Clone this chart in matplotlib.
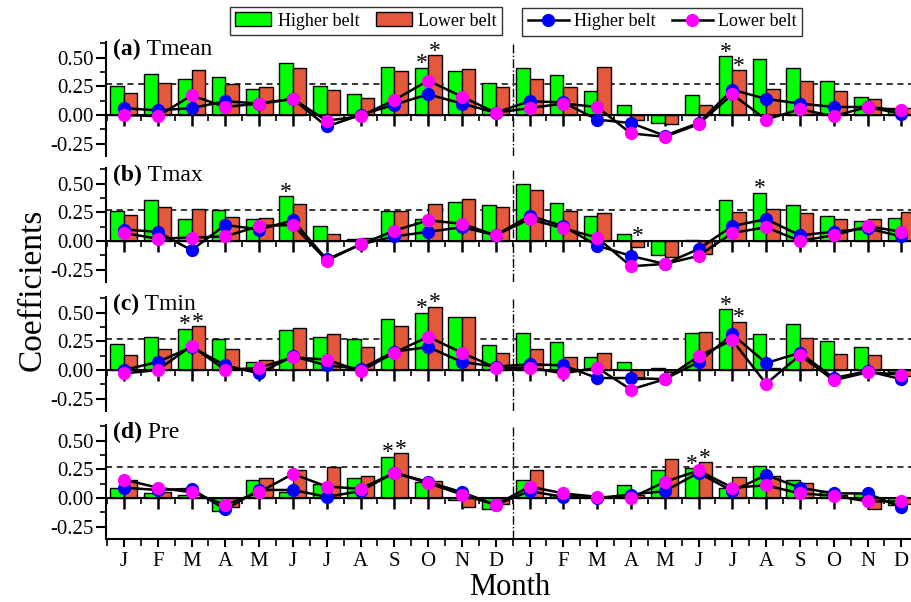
import matplotlib
matplotlib.use("Agg")
import matplotlib.pyplot as plt
import numpy as np
from matplotlib.patches import Patch
from matplotlib.lines import Line2D

plt.rcParams['font.family'] = ['Liberation Serif', 'DejaVu Serif']

months = ['J', 'F', 'M', 'A', 'M', 'J', 'J', 'A', 'S', 'O', 'N', 'D'] * 2
panel_letters = ['(a)', '(b)', '(c)', '(d)']
panel_names = ['Tmean', 'Tmax', 'Tmin', 'Pre']
threshold = 0.27

tmean_bar_high = [0.25, 0.36, 0.31, 0.33, 0.23, 0.45, 0.25, 0.18, 0.42, 0.41, 0.38, 0.28,
                  0.41, 0.35, 0.21, 0.09, -0.07, 0.17, 0.51, 0.49, 0.41, 0.30, 0.16, 0.06]
tmean_bar_low = [0.19, 0.28, 0.39, 0.27, 0.24, 0.41, 0.22, 0.15, 0.38, 0.52, 0.40, 0.24,
                 0.31, 0.24, 0.42, -0.04, -0.08, 0.09, 0.39, 0.23, 0.30, 0.21, 0.14, 0.06]
tmean_line_high = [0.06, 0.04, 0.06, 0.12, 0.10, 0.14, -0.10, 0.00, 0.09, 0.18, 0.10, 0.02,
                   0.12, 0.11, -0.04, -0.07, -0.18, -0.07, 0.22, 0.14, 0.10, 0.07, 0.07, 0.01]
tmean_line_low = [0.00, -0.01, 0.17, 0.07, 0.10, 0.14, -0.05, -0.01, 0.13, 0.30, 0.16, 0.02,
                  0.06, 0.10, 0.07, -0.16, -0.19, -0.08, 0.18, -0.04, 0.05, -0.01, 0.07, 0.04]

tmax_bar_high = [0.26, 0.36, 0.19, 0.27, 0.19, 0.39, 0.13, 0.02, 0.26, 0.19, 0.34, 0.31,
                 0.50, 0.33, 0.22, 0.06, -0.12, 0.01, 0.36, 0.42, 0.31, 0.22, 0.17, 0.20]
tmax_bar_low = [0.23, 0.30, 0.28, 0.21, 0.20, 0.32, 0.06, 0.03, 0.26, 0.32, 0.37, 0.30,
                0.44, 0.26, 0.24, -0.05, -0.14, -0.11, 0.25, 0.28, 0.24, 0.19, 0.19, 0.25]
tmax_line_high = [0.10, 0.08, -0.08, 0.14, 0.10, 0.18, -0.16, -0.03, 0.04, 0.08, 0.12, 0.05,
                  0.22, 0.13, -0.04, -0.13, -0.20, -0.07, 0.13, 0.19, 0.05, 0.08, 0.11, 0.04]
tmax_line_low = [0.07, 0.02, 0.03, 0.04, 0.13, 0.14, -0.17, -0.03, 0.09, 0.18, 0.15, 0.05,
                 0.19, 0.11, 0.03, -0.22, -0.20, -0.13, 0.07, 0.12, 0.00, 0.05, 0.13, 0.08]

tmin_bar_high = [0.23, 0.29, 0.36, 0.27, 0.07, 0.35, 0.29, 0.27, 0.44, 0.50, 0.46, 0.22,
                 0.32, 0.24, 0.11, 0.07, 0.02, 0.32, 0.53, 0.31, 0.40, 0.25, 0.20, -0.02]
tmin_bar_low = [0.13, 0.18, 0.38, 0.18, 0.09, 0.37, 0.31, 0.20, 0.38, 0.55, 0.46, 0.15,
                0.18, 0.11, 0.15, -0.08, -0.02, 0.33, 0.42, 0.02, 0.28, 0.14, 0.13, -0.05]
tmin_line_high = [0.00, 0.07, 0.20, 0.04, -0.03, 0.12, 0.04, 0.01, 0.16, 0.20, 0.07, 0.03,
                  0.05, 0.04, -0.07, -0.07, -0.08, 0.07, 0.31, 0.06, 0.15, -0.07, -0.01, -0.08]
tmin_line_low = [-0.03, 0.00, 0.21, 0.00, 0.02, 0.11, 0.09, -0.01, 0.15, 0.29, 0.15, 0.02,
                 0.02, -0.03, 0.02, -0.17, -0.08, 0.12, 0.26, -0.12, 0.13, -0.09, -0.02, -0.04]

pre_bar_high = [0.09, 0.04, 0.03, -0.11, 0.16, 0.05, 0.12, 0.17, 0.36, 0.14, -0.02, -0.10,
                0.16, 0.03, 0.01, 0.11, 0.24, 0.26, 0.09, 0.28, 0.16, 0.06, 0.04, -0.06]
pre_bar_low = [0.16, 0.05, 0.00, -0.08, 0.17, 0.24, 0.27, 0.19, 0.39, 0.15, -0.08, -0.05,
               0.24, 0.03, 0.00, 0.03, 0.34, 0.31, 0.18, 0.19, 0.13, 0.03, -0.10, -0.05]
pre_line_high = [0.09, 0.07, 0.08, -0.10, 0.07, 0.07, 0.01, 0.06, 0.22, 0.14, 0.05, -0.06,
                 0.06, 0.01, 0.00, 0.03, 0.06, 0.22, 0.06, 0.20, 0.09, 0.04, 0.04, -0.08]
pre_line_low = [0.16, 0.09, 0.05, -0.06, 0.05, 0.21, 0.10, 0.08, 0.22, 0.13, 0.03, -0.06,
                0.10, 0.04, 0.01, 0.00, 0.14, 0.24, 0.09, 0.11, 0.04, 0.02, -0.03, -0.03]

# significance markers: panel index, month index (0-23), series ('H' higher, 'L' lower)
star_panel = [0, 0, 0, 0, 1, 1, 1, 2, 2, 2, 2, 2, 2, 3, 3, 3, 3]
star_month = [9, 9, 18, 18, 5, 15, 19, 2, 2, 9, 9, 18, 18, 8, 8, 17, 17]
star_series = ['H', 'L', 'H', 'L', 'H', 'L', 'H', 'H', 'L', 'H', 'L', 'H', 'L', 'H', 'L', 'H', 'L']

bars_high = [tmean_bar_high, tmax_bar_high, tmin_bar_high, pre_bar_high]
bars_low = [tmean_bar_low, tmax_bar_low, tmin_bar_low, pre_bar_low]
lines_high = [tmean_line_high, tmax_line_high, tmin_line_high, pre_line_high]
lines_low = [tmean_line_low, tmax_line_low, tmin_line_low, pre_line_low]

GREEN = '#00FF00'
RED = '#E4583B'
BLUE = '#0000FF'
MAGENTA = '#FF00FF'

W, H = 912, 602
fig = plt.figure(figsize=(W / 100, H / 100), dpi=100)

x = np.arange(1, 25)
zeros_px = [115, 241, 370, 498]
scale = 114.8  # px per unit
ylo, yhi = -0.36, 0.64
xlo, xhi = 0.47, 24.6
left_px = 106
px_per_month = 33.8

axes = []
for k in range(4):
    bottom_px = zeros_px[k] + (-ylo) * scale
    height_px = (yhi - ylo) * scale
    width_px = (xhi - xlo) * px_per_month
    ax = fig.add_axes([left_px / W, 1 - bottom_px / H, width_px / W, height_px / H])
    ax.set_xlim(xlo, xhi)
    ax.set_ylim(ylo, yhi)
    ax.patch.set_alpha(0)
    for s in ['top', 'right']:
        ax.spines[s].set_visible(False)
    ax.spines['bottom'].set_position(('data', 0))
    ax.spines['bottom'].set_linewidth(1.5)
    ax.spines['left'].set_linewidth(1.5)

    ax.axhline(threshold, color='black', ls=(0, (4, 3)), lw=1.1, zorder=0.5)
    ax.axvline(12.5, color='black', ls='-.', lw=1.0, zorder=0.5)

    ax.bar(x - 0.2, bars_high[k], width=0.4, color=GREEN, edgecolor='black', lw=1.0, zorder=2)
    ax.bar(x + 0.2, bars_low[k], width=0.4, color=RED, edgecolor='black', lw=1.0, zorder=2)
    ax.plot(x, lines_high[k], '-o', color='black', lw=1.8, ms=8.5,
            mfc=BLUE, mec=BLUE, zorder=3)
    ax.plot(x, lines_low[k], '-o', color='black', lw=1.8, ms=8.5,
            mfc=MAGENTA, mec=MAGENTA, zorder=4)

    ax.set_yticks([-0.25, 0, 0.25, 0.5])
    ax.set_yticklabels(['-0.25', '0.00', '0.25', '0.50'], fontsize=15)
    ax.set_yticks(np.arange(-0.25, 0.626, 0.125), minor=True)
    ax.tick_params(axis='y', which='major', direction='out', length=7, width=1.5, pad=2)
    ax.tick_params(axis='y', which='minor', direction='out', length=4, width=1.2)

    ax.set_xticks(x)
    ax.set_xticks(np.arange(0.5, 24.6, 1.0), minor=True)
    ax.tick_params(axis='x', which='major', direction='out', length=8, width=1.8, labelbottom=False)
    ax.tick_params(axis='x', which='minor', direction='out', length=4, width=1.2)

    t1 = ax.text(0.009, 1.025, panel_letters[k], transform=ax.transAxes, fontsize=17,
                 fontweight='bold', va='top', ha='left', zorder=6)
    ax.annotate(' ' + panel_names[k], xy=(1, 0), xycoords=t1, va='bottom', ha='left',
                fontsize=17, zorder=6)
    axes.append(ax)

# significance asterisks
for p, m, s in zip(star_panel, star_month, star_series):
    ax = axes[p]
    if s == 'H':
        xv = x[m] - 0.2
        top = bars_high[p][m]
    else:
        xv = x[m] + 0.2
        top = bars_low[p][m]
    ax.annotate('*', xy=(xv, max(top, 0)), xytext=(0, -1), textcoords='offset points',
                ha='center', va='baseline', fontsize=17, zorder=6)

# bottom axis of the last panel
axd = axes[3]
sec = axd.secondary_xaxis(0.0)
sec.set_xticks(x)
sec.set_xticklabels(months, fontsize=15)
sec.set_xticks(np.arange(0.5, 24.6, 1.0), minor=True)
sec.tick_params(axis='x', which='major', direction='out', length=6, width=1.5, pad=3)
sec.tick_params(axis='x', which='minor', direction='out', length=5, width=1.2)
sec.spines['bottom'].set_linewidth(1.5)

fig.text(510 / W, 1 - 595 / H, 'Month', fontsize=22, ha='center', va='baseline')
fig.text(0.036, 1 - 290 / H, 'Coefficients', rotation=90, fontsize=24, ha='center', va='center')

# legends
h1 = [Patch(facecolor=GREEN, edgecolor='black', lw=1.0, label='Higher belt'),
      Patch(facecolor=RED, edgecolor='black', lw=1.0, label='Lower belt')]
leg1 = fig.legend(handles=h1, loc='center', bbox_to_anchor=(366 / W, 1 - 21 / H), ncol=2,
                  fontsize=13, frameon=True, fancybox=False, edgecolor='black',
                  handlelength=2.0, handleheight=0.8, columnspacing=0.9, handletextpad=0.35,
                  borderpad=0.3, borderaxespad=0)
leg1.get_frame().set_linewidth(1.0)
h2 = [Line2D([], [], color='black', lw=1.8, marker='o', ms=8.5, mfc=BLUE, mec=BLUE, label='Higher belt'),
      Line2D([], [], color='black', lw=1.8, marker='o', ms=8.5, mfc=MAGENTA, mec=MAGENTA, label='Lower belt')]
leg2 = fig.legend(handles=h2, loc='center', bbox_to_anchor=(662 / W, 1 - 22 / H), ncol=2,
                  fontsize=13, frameon=True, fancybox=False, edgecolor='black',
                  handlelength=2.3, columnspacing=0.9, handletextpad=0.25,
                  borderpad=0.3, borderaxespad=0)
leg2.get_frame().set_linewidth(1.0)

fig.savefig('out.png', dpi=100)
